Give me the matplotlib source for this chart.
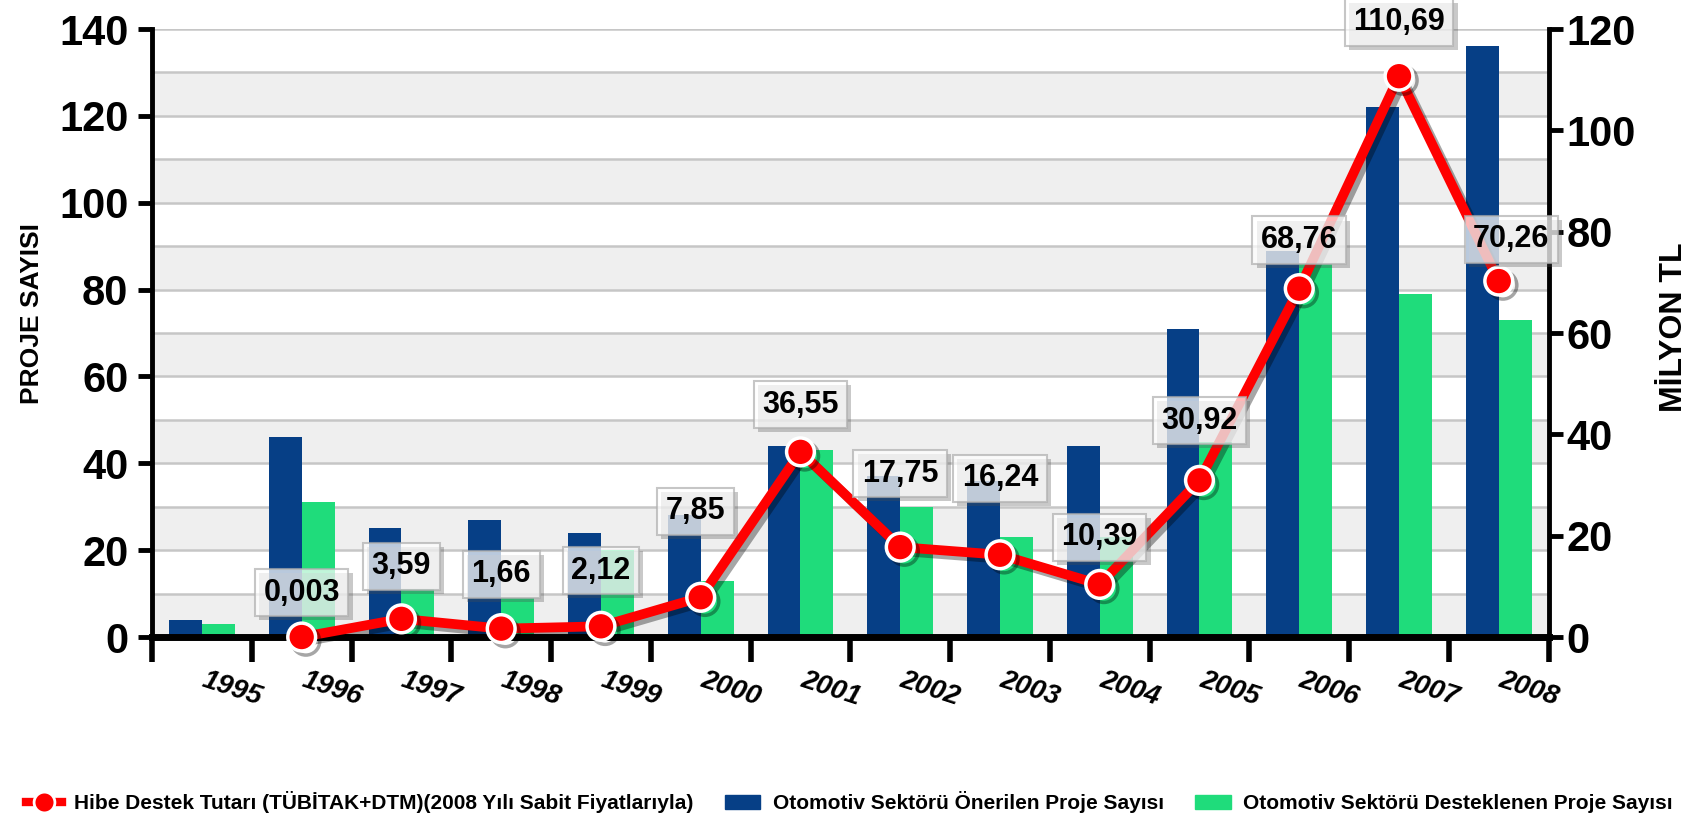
import matplotlib
matplotlib.use("Agg")
from matplotlib import pyplot as plt
from matplotlib import patheffects as pe
from matplotlib.lines import Line2D
from matplotlib.patches import Patch
import numpy as np

# Yıllara göre proje sayıları (sol eksen) ve hibe tutarı (sağ eksen, milyon TL)
years = ["1995", "1996", "1997", "1998", "1999", "2000", "2001",
         "2002", "2003", "2004", "2005", "2006", "2007", "2008"]
onerilen = [4, 46, 25, 27, 24, 28, 44, 37, 36, 44, 71, 89, 122, 136]
desteklenen = [3, 31, 11, 9, 20, 13, 43, 30, 23, 23, 45, 86, 79, 73]
hibe_years = years[1:]
hibe = [0.003, 3.59, 1.66, 2.12, 7.85, 36.55, 17.75, 16.24, 10.39,
        30.92, 68.76, 110.69, 70.26]

# etiket kutularının noktaya göre kaydırması (punto)
label_dx = [0, 0, 0, 0, -4, 0, 0, 0, 0, 0, 0, 0, 9]
label_dy = [32, 38, 39, 40, 62, 34, 53, 55, 34, 43, 35, 39, 30]

BLUE = "#063f86"
GREEN = "#1fdc7b"
RED = "#ff0000"

plt.rcParams['font.family'] = ['Liberation Sans Narrow', 'Liberation Sans', 'DejaVu Sans']
plt.rcParams['font.weight'] = 'bold'

fig = plt.figure(figsize=(16.99, 8.22), dpi=100)
ax = fig.add_axes([0.0895, 0.225, 0.822, 0.7397])
x = np.arange(len(years))

# Arka plan bantları ve yatay çizgiler
for lo in range(0, 140, 20):
    ax.axhspan(lo, lo + 10, color="#efefef", zorder=0, lw=0)
for v in range(10, 141, 10):
    ax.axhline(v, color="#c6c6c6", lw=1.8, zorder=0.5)

w = 0.33
ax.bar(x - w / 2, onerilen, w, color=BLUE, zorder=2)
ax.bar(x + w / 2, desteklenen, w, color=GREEN, zorder=2)

ax.set_xlim(-0.5, len(years) - 0.5)
ax.set_ylim(0, 140)
ax.set_yticks(range(0, 141, 20))
ax.set_xticks(np.arange(-0.5, len(years), 1))
ax.set_xticklabels([])
ax.tick_params(axis='y', length=10, width=3.5, labelsize=30, pad=7)
ax.tick_params(axis='x', length=18, width=4)
for s in ("top", "right"):
    ax.spines[s].set_visible(False)
ax.spines["left"].set_linewidth(3.5)
ax.spines["bottom"].set_linewidth(5)

for i, y in enumerate(years):
    ax.text(i + 0.3, -0.085, y, transform=ax.get_xaxis_transform(),
            ha='center', va='center', rotation=-18, fontsize=20,
            fontstyle='italic', fontweight='bold')

# Sağ eksen: hibe tutarı
ax2 = ax.twinx()
ax2.set_ylim(0, 120)
ax2.set_yticks(range(0, 121, 20))
ax2.tick_params(axis='y', length=10, width=3.5, labelsize=30, pad=3)
for s in ("top", "left", "bottom"):
    ax2.spines[s].set_visible(False)
ax2.spines["right"].set_linewidth(3.5)

hx = x[1:]
ax2.plot(hx, hibe, color=RED, lw=7, marker='o', ms=20, mfc=RED,
         mec='white', mew=2.5, zorder=5, clip_on=False,
         path_effects=[pe.SimpleLineShadow(offset=(3, -3), alpha=0.35),
                       pe.Normal()])

for xi, v, dx, dy in zip(hx, hibe, label_dx, label_dy):
    txt = f"{v:g}".replace(".", ",")
    ann = ax2.annotate(txt, (xi, v), xytext=(dx, dy), textcoords='offset points',
                       ha='center', va='center', fontsize=22, fontweight='bold',
                       zorder=6,
                       bbox=dict(boxstyle='square,pad=0.28', fc='white',
                                 ec='#b0b0b0', lw=1.5, alpha=0.72))
    ann.get_bbox_patch().set_path_effects(
        [pe.SimplePatchShadow(offset=(3, -3), alpha=0.3), pe.Normal()])

fig.text(0.019, 0.618, "PROJE SAYISI", rotation=90, ha='center', va='center',
         fontsize=19, fontweight='bold')
fig.text(0.985, 0.602, "MİLYON TL", rotation=90, ha='center', va='center',
         fontsize=23, fontweight='bold')

handles = [
    Line2D([], [], color=RED, lw=6, marker='o', ms=15, mfc=RED, mec='white', mew=2),
    Patch(color=BLUE),
    Patch(color=GREEN),
]
labels = [
    "Hibe Destek Tutarı (TÜBİTAK+DTM)(2008 Yılı Sabit Fiyatlarıyla)",
    "Otomotiv Sektörü Önerilen Proje Sayısı",
    "Otomotiv Sektörü Desteklenen Proje Sayısı",
]
fig.legend(handles, labels, loc='center', bbox_to_anchor=(0.5, 0.024), ncol=3,
           frameon=False, prop={'size': 15, 'weight': 'bold'},
           handlelength=1.7, columnspacing=1.5, handletextpad=0.6)

fig.savefig("out.png", dpi=100)
